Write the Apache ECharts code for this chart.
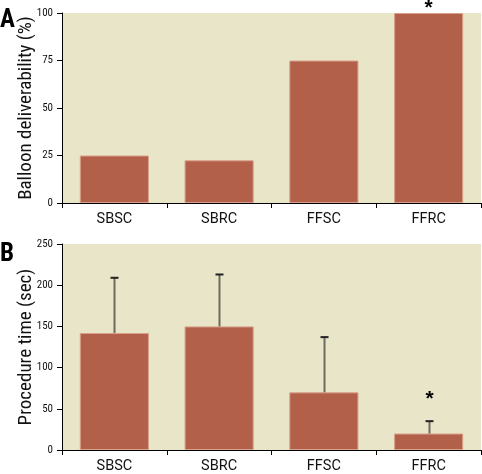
<!DOCTYPE html>
<html>
<head>
<meta charset="utf-8">
<script src="https://cdn.jsdelivr.net/npm/echarts@6/dist/echarts.min.js"></script>
<style>
html,body{margin:0;padding:0;background:#fff;}
#c{width:482px;height:474px;}
</style>
</head>
<body>
<div id="c"></div>
<script>
const categories = ['SBSC', 'SBRC', 'FFSC', 'FFRC'];
const deliverability = [25, 22.5, 75, 100];
const procedureTime = [142, 150, 70, 20];
const procedureTimeSD = [67, 63, 67, 15];
const sigA = ['', '', '', '*'];
const sigB = ['', '', '', '*'];
const ticksA = [0, 25, 50, 75, 100];
const ticksB = [0, 50, 100, 150, 200, 250];

const BG = '#e9e5c9';
const BAR = '#b3604b';
const condFont = '"Roboto Condensed", "DejaVu Sans Condensed", sans-serif';
const textFont = 'Roboto, "Liberation Sans", sans-serif';

const chart = echarts.init(document.getElementById('c'), null, {renderer: 'canvas'});

function xAxisCfg(gridIndex) {
  return {
    type: 'category', gridIndex, data: categories,
    axisLine: {lineStyle: {color: '#000', width: 1}},
    axisTick: {show: true, length: 5, inside: false, lineStyle: {color: '#000'}},
    axisLabel: {color: '#111', fontFamily: textFont, fontSize: 14.5, margin: 9}
  };
}
function yAxisCfg(gridIndex, ticks, name) {
  return {
    type: 'value', gridIndex,
    min: ticks[0], max: ticks[ticks.length - 1], interval: ticks[1] - ticks[0],
    name, nameLocation: 'middle', nameGap: 26, nameMoveOverlap: false,
    nameTextStyle: {fontFamily: condFont, fontSize: 19, color: '#111'},
    axisLine: {show: true, lineStyle: {color: '#000', width: 1}},
    axisTick: {show: true, length: 5, lineStyle: {color: '#000'}},
    axisLabel: {color: '#111', fontFamily: condFont, fontSize: 11, margin: 9},
    splitLine: {show: false}
  };
}

const errData = procedureTime.map((v, i) => [i, v, v + procedureTimeSD[i], sigB[i]]);

chart.setOption({
  animation: false,
  grid: [
    {left: 62, right: 1, top: 13, height: 190, show: true, backgroundColor: BG, borderWidth: 0},
    {left: 62, right: 1, top: 244, height: 206, show: true, backgroundColor: BG, borderWidth: 0}
  ],
  xAxis: [xAxisCfg(0), xAxisCfg(1)],
  yAxis: [yAxisCfg(0, ticksA, 'Balloon deliverability (%)'), yAxisCfg(1, ticksB, 'Procedure time (sec)')],
  graphic: [
    {type: 'text', left: 0, top: 8, style: {text: 'A', font: 'bold 25px "Roboto Condensed", sans-serif', fill: '#000'}},
    {type: 'text', left: 0, top: 242, style: {text: 'B', font: 'bold 25px "Roboto Condensed", sans-serif', fill: '#000'}}
  ],
  series: [
    {
      type: 'bar', xAxisIndex: 0, yAxisIndex: 0, data: deliverability, barWidth: '66%',
      itemStyle: {color: BAR, borderColor: '#d9a08a', borderWidth: 1},
      label: {show: true, position: 'top', distance: -6, formatter: p => sigA[p.dataIndex],
        fontSize: 21, fontWeight: 'bold', color: '#000', fontFamily: 'Liberation Sans, sans-serif'}
    },
    {
      type: 'bar', xAxisIndex: 1, yAxisIndex: 1, data: procedureTime, barWidth: '66%',
      itemStyle: {color: BAR, borderColor: '#d9a08a', borderWidth: 1}
    },
    {
      type: 'custom', xAxisIndex: 1, yAxisIndex: 1, data: errData, z: 5,
      renderItem: function (params, api) {
        const i = api.value(0);
        const base = api.coord([i, api.value(1)]);
        const top = api.coord([i, api.value(2)]);
        const x = Math.round(base[0]) + 0.5;
        const children = [
          {type: 'line', shape: {x1: x, y1: base[1], x2: x, y2: top[1]}, style: {stroke: '#6b6b5c', lineWidth: 2}},
          {type: 'line', shape: {x1: x - 4, y1: top[1], x2: x + 4, y2: top[1]}, style: {stroke: '#222', lineWidth: 2}}
        ];
        const s = errData[params.dataIndex][3];
        if (s) {
          children.push({type: 'text', x: x, y: top[1] - 22,
            style: {text: s, font: 'bold 21px "Liberation Sans", sans-serif', fill: '#000', align: 'center', verticalAlign: 'middle'}});
        }
        return {type: 'group', children};
      }
    }
  ]
});
</script>
</body>
</html>
